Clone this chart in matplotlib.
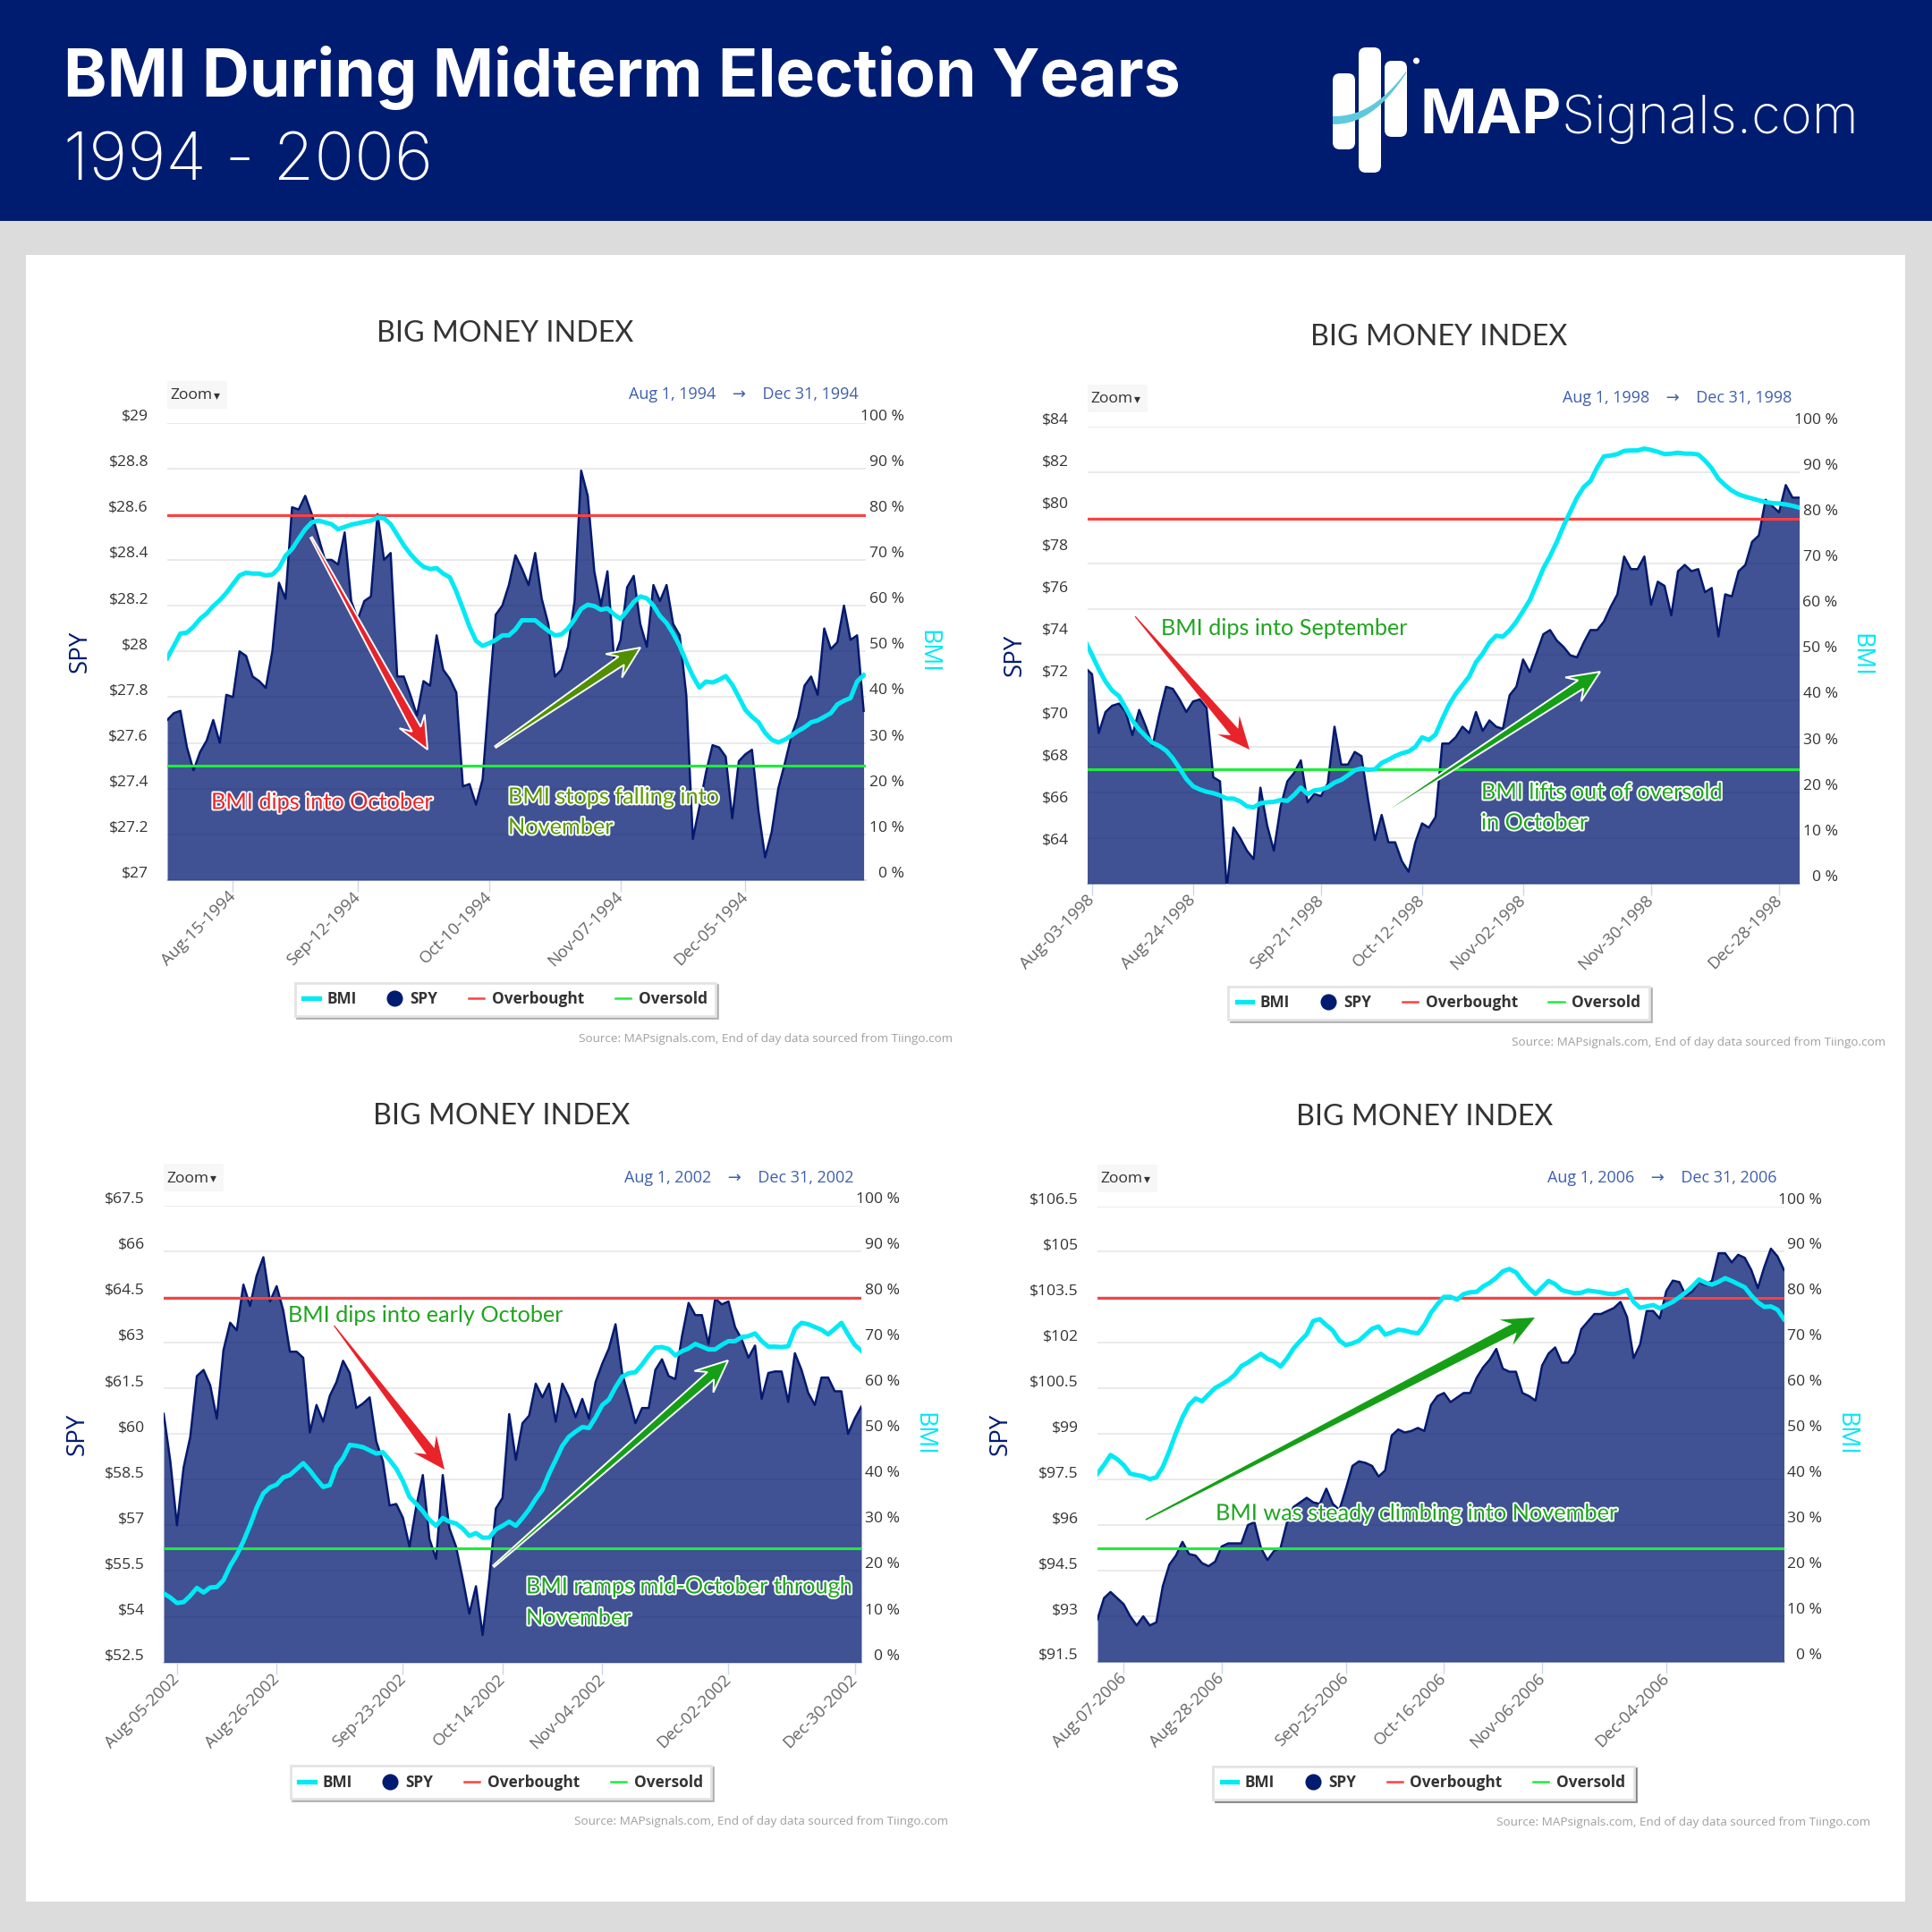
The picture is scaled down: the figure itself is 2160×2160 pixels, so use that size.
import numpy as np
import matplotlib
matplotlib.use("Agg")
import matplotlib.pyplot as plt
from matplotlib.patches import Rectangle, FancyBboxPatch, Polygon, Circle
from matplotlib.lines import Line2D
from matplotlib.transforms import ScaledTranslation
import matplotlib.patheffects as pe

plt.rcParams['font.family'] = ['Open Sans', 'DejaVu Sans']

# ---------- data ----------
years = ["1994", "1998", "2002", "2006"]
spy_1994 = [27.70,27.73,27.74,27.58,27.48,27.56,27.61,27.70,27.60,27.81,27.80,28.00,27.98,27.89,27.87,27.84,28.00,28.30,28.23,28.63,28.62,28.68,28.60,28.50,28.40,28.40,28.38,28.52,28.22,28.14,28.22,28.24,28.60,28.40,28.43,27.89,27.89,27.81,27.72,27.87,27.85,28.07,27.92,27.88,27.82,27.41,27.42,27.33,27.44,27.81,28.16,28.20,28.29,28.42,28.36,28.29,28.43,28.23,28.12,27.89,27.92,28.02,28.22,28.79,28.68,28.35,28.20,28.35,27.97,28.05,28.28,28.33,28.12,28.02,28.29,28.22,28.29,28.12,28.07,27.81,27.18,27.32,27.47,27.59,27.58,27.54,27.27,27.52,27.55,27.57,27.30,27.10,27.21,27.40,27.51,27.63,27.71,27.85,27.89,27.81,28.10,28.01,28.04,28.20,28.05,28.07,27.74]
bmi_1994 = [48.5,51.2,53.9,54.1,55.4,57.1,58.3,59.9,61.2,62.8,64.7,66.6,67.2,67.0,67.0,66.6,66.8,68.2,70.9,72.4,74.6,76.7,78.2,78.6,78.2,77.8,76.7,77.2,77.7,78.0,78.3,78.6,79.2,79.1,77.8,75.5,73.2,71.3,69.7,68.5,68.0,68.2,67.0,66.2,63.1,59.3,55.4,52.3,51.2,51.8,52.5,53.5,53.5,54.8,56.8,56.8,56.8,55.6,54.5,53.5,53.7,55.0,57.0,59.3,60.2,59.9,59.1,59.4,58.1,57.1,58.9,60.8,62.0,61.6,60.0,57.7,56.2,53.9,51.2,47.7,44.6,42.1,43.4,43.2,43.8,44.6,42.7,40.0,37.2,35.7,34.5,32.2,30.7,30.1,30.7,31.6,32.6,33.4,34.5,34.9,35.7,36.5,38.4,39.2,39.8,43.4,44.8]
spy_1998 = [72.5,72.2,69.4,70.4,70.7,70.8,70.4,69.3,70.5,69.7,68.8,70.3,71.6,71.5,71.0,70.4,70.9,71.0,70.6,67.3,67.1,62.0,64.9,64.4,63.8,63.4,66.8,65.0,63.8,65.9,67.1,67.5,68.1,66.1,66.5,66.4,67.0,69.7,67.9,67.9,68.5,68.3,66.2,64.3,65.5,64.2,64.2,63.3,62.8,64.2,65.1,64.9,65.4,68.9,68.9,69.2,69.7,69.4,70.4,69.5,70.0,69.7,69.6,71.2,71.6,72.9,72.3,73.2,74.1,74.3,73.8,73.5,73.1,73.0,73.7,74.3,74.3,74.7,75.4,76.0,77.8,77.2,77.2,77.8,75.5,76.6,76.4,75.0,77.1,77.4,77.1,77.2,76.1,76.3,74.0,76.0,75.9,77.1,77.4,78.5,78.8,80.5,80.2,79.9,81.2,80.6,80.6]
bmi_1998 = [53.0,50.0,46.9,44.2,42.2,41.0,38.4,35.7,33.7,32.2,30.8,30.1,29.1,27.4,25.2,22.9,21.3,20.6,20.1,19.8,19.3,18.6,18.6,18.0,16.9,16.7,17.6,17.8,17.9,18.3,18.1,19.4,21.0,19.6,20.4,20.6,21.1,22.1,22.7,23.7,24.8,25.2,24.9,25.0,26.4,27.1,27.9,28.5,28.9,29.9,32.0,31.4,32.6,36.0,39.1,41.5,43.4,45.3,48.4,50.3,52.7,54.2,54.0,55.4,57.3,59.6,62.0,65.4,68.9,71.6,74.7,78.2,81.3,84.4,86.7,88.0,91.0,93.4,93.6,93.9,94.6,94.7,94.7,95.1,94.8,94.4,93.9,94.0,94.2,94.0,94.0,93.8,92.5,90.8,88.5,87.1,85.9,85.1,84.6,84.2,83.8,83.4,83.2,83.1,82.9,82.6,82.2]
spy_2002 = [60.66,59.1,57.0,58.9,59.9,61.9,62.1,61.6,60.5,62.75,63.65,63.4,64.9,64.2,65.2,65.8,64.35,64.85,64.05,62.7,62.7,62.5,60.05,60.95,60.4,61.25,61.7,62.4,62.0,60.85,61.0,61.2,59.75,59.1,57.65,57.7,57.25,56.3,57.6,58.65,56.55,55.9,58.65,56.9,56.3,55.25,54.1,55.0,53.4,55.25,57.55,57.9,60.65,59.15,60.35,60.6,61.65,61.2,61.65,60.4,61.65,61.2,60.55,61.15,60.5,61.7,62.3,62.8,63.6,62.0,61.2,60.35,60.85,60.85,62.1,62.45,61.9,61.8,63.2,64.3,63.9,63.9,62.95,64.45,64.25,64.35,63.5,63.1,62.5,62.9,61.15,62.0,62.05,62.05,61.05,62.65,62.1,61.35,60.95,61.85,61.85,61.4,61.4,60.0,60.5,60.9]
bmi_2002 = [15.1,14.2,13.0,13.2,14.6,16.3,15.3,16.4,16.5,18.0,21.1,23.5,26.5,30.0,33.9,37.0,38.3,38.9,40.5,41.0,42.3,43.6,42.0,40.1,38.4,38.8,42.8,44.7,47.6,47.4,47.1,46.4,45.7,46.0,44.3,42.4,39.7,36.2,34.7,33.1,31.2,29.9,31.6,30.8,30.4,29.3,27.7,28.3,27.3,27.3,29.1,29.9,30.8,29.9,31.6,33.5,35.8,37.8,41.3,44.3,47.4,49.4,50.5,51.5,51.3,53.6,56.3,57.5,60.2,62.5,63.3,63.5,65.2,67.2,68.9,69.0,68.6,67.2,68.1,68.7,69.7,69.1,68.5,68.5,69.5,70.3,70.3,71.2,71.4,72.0,70.3,69.1,69.1,69.0,69.2,73.0,74.3,74.0,73.4,72.8,71.8,73.0,74.3,71.8,69.5,68.2]
spy_2006 = [92.9,93.6,93.8,93.6,93.4,93.0,92.7,93.0,92.7,92.8,94.0,94.7,95.0,95.45,95.05,95.0,94.75,94.65,94.8,95.3,95.4,95.4,95.4,96.0,96.1,95.25,94.85,95.15,95.25,96.1,96.6,96.75,96.9,96.75,96.7,97.2,96.7,96.5,97.2,97.95,98.1,98.05,97.95,97.6,97.8,98.95,99.15,99.05,99.1,99.2,99.1,99.95,100.25,100.35,100.05,100.2,100.35,100.35,100.85,101.2,101.45,101.8,101.15,101.05,101.05,100.35,100.25,100.1,101.25,101.65,101.85,101.35,101.35,101.65,102.45,102.7,102.95,102.95,103.05,103.15,103.35,102.85,101.5,101.95,103.05,103.05,102.8,103.7,104.05,104.0,103.55,103.7,104.0,103.9,104.05,104.95,104.95,104.65,104.9,104.8,104.4,103.8,104.5,105.1,104.85,104.4]
bmi_2006 = [41.3,43.2,45.4,44.5,43.2,41.3,41.0,40.7,40.1,40.5,42.8,46.3,50.2,53.7,56.4,57.8,57.2,58.7,60.1,60.9,61.8,63.0,64.9,65.7,66.7,67.6,66.5,65.9,64.8,66.6,68.8,70.4,71.9,74.8,75.2,73.9,72.7,70.5,69.5,69.9,70.5,71.8,73.1,73.6,71.8,72.3,72.9,72.7,72.3,72.1,73.9,76.6,78.5,80.1,80.1,79.5,80.7,81.1,81.2,82.4,83.2,84.3,85.7,86.2,85.5,83.6,82.0,80.7,82.2,83.6,82.9,81.6,81.2,80.9,81.0,81.5,81.3,81.1,80.8,80.7,81.1,81.6,79.0,77.7,78.0,78.3,77.6,78.3,79.0,80.0,81.1,82.4,83.9,83.2,82.8,83.4,84.2,83.6,82.9,82.2,80.4,78.9,77.9,78.0,77.3,75.2]

spy_ticks_1994 = [27.0,27.2,27.4,27.6,27.8,28.0,28.2,28.4,28.6,28.8,29.0]
spy_ticks_1998 = [64,66,68,70,72,74,76,78,80,82,84]
spy_ticks_2002 = [52.5,54,55.5,57,58.5,60,61.5,63,64.5,66,67.5]
spy_ticks_2006 = [91.5,93,94.5,96,97.5,99,100.5,102,103.5,105,106.5]
bmi_ticks = [0,10,20,30,40,50,60,70,80,90,100]
overbought = 79.8
oversold = 25.0
date_idx_1994 = [10,29,49,69,88]
date_lab_1994 = ["Aug-15-1994","Sep-12-1994","Oct-10-1994","Nov-07-1994","Dec-05-1994"]
date_idx_1998 = [0,15,34,49,64,83,102]
date_lab_1998 = ["Aug-03-1998","Aug-24-1998","Sep-21-1998","Oct-12-1998","Nov-02-1998","Nov-30-1998","Dec-28-1998"]
date_idx_2002 = [2,17,36,51,66,85,104]
date_lab_2002 = ["Aug-05-2002","Aug-26-2002","Sep-23-2002","Oct-14-2002","Nov-04-2002","Dec-02-2002","Dec-30-2002"]
date_idx_2006 = [4,19,38,53,68,87]
date_lab_2006 = ["Aug-07-2006","Aug-28-2006","Sep-25-2006","Oct-16-2006","Nov-06-2006","Dec-04-2006"]

NAVY = '#001c71'
CYAN = '#00e9f5'
RED = '#ff4040'
GREEN = '#1cee38'
FILL = '#00186f'
W = H = 2160
PT = 0.36  # points per output pixel
fig = plt.figure(figsize=(10.8, 10.8), dpi=200, facecolor='#dcdcdc')

def px_axes(L, T, R, B, z):
    return fig.add_axes([L/W, 1-B/H, (R-L)/W, (B-T)/H], zorder=z)

bg = fig.add_axes([0,0,1,1], zorder=0); bg.set_xlim(0,W); bg.set_ylim(H,0); bg.axis('off')
fg = fig.add_axes([0,0,1,1], zorder=10); fg.set_xlim(0,W); fg.set_ylim(H,0); fg.axis('off')
bg.add_patch(Rectangle((0,0), W, 247, fc=NAVY, ec='none'))
bg.add_patch(Rectangle((29,285), 2101, 1841, fc='white', ec='none'))

# header
fg.text(71, 87, "BMI During Midterm Election Years", color='white', fontsize=26.4, fontweight='bold',
        family='Inter', va='center', ha='left')
fg.text(71, 182, "1994 - 2006", color='white', fontsize=26.7, fontweight='light',
        family='Inter', va='center', ha='left')
for (x0, x1, y0, y1) in [(1490,1515,82,167),(1519,1544,53,193),(1548,1573,68,153)]:
    fg.add_patch(FancyBboxPatch((x0+8,y0+8), x1-x0-16, y1-y0-16, boxstyle="round,pad=8,rounding_size=8",
                                fc='white', ec='none'))
t = np.linspace(0,1,30)
upper = np.c_[1490+82*t, 130-50*t**2.2]
lower = np.c_[1490+82*t, 139-57*t**2.2]
fg.add_patch(Polygon(np.r_[upper, lower[::-1]], fc='#5fc9dd', ec='none'))
fg.add_patch(Circle((1583.5,68), 3.5, fc='white', ec='none'))
fg.text(1588, 149, "MAP", color='white', fontsize=24.5, fontweight='bold', family='Inter', va='baseline')
fg.text(1746, 149, "Signals.com", color='white', fontsize=21.5, fontweight='light', family='Inter', va='baseline')

def arrow(x0, y0, x1, y1, color, tail=1.0, neck=5.5, head=16, hlen=36, edge=True):
    p0 = np.array([x0,y0],float); p1 = np.array([x1,y1],float)
    d = (p1-p0)/np.hypot(*(p1-p0)); n = np.array([-d[1],d[0]])
    pts = [p0+n*tail, p1-d*hlen*0.72+n*neck, p1-d*hlen+n*head, p1,
           p1-d*hlen-n*head, p1-d*hlen*0.72-n*neck, p0-n*tail]
    fg.add_patch(Polygon(pts, closed=True, fc=color, ec='white' if edge else 'none', lw=0.7, joinstyle='miter'))

def note(x, y, s, color, outline=True):
    t = fg.text(x, y+1, s, color=color, fontsize=9.1, family='Lato', va='center', ha='left')
    if outline:
        t.set_path_effects([pe.withStroke(linewidth=1.4, foreground='white')])

panels = [
    dict(year="1994", L=187, T=472.5, R=968, B=984, spy=spy_1994, bmi=bmi_1994, start=0, ymin=27.0, ymax=29.0,
         ticks=spy_ticks_1994, fmt="${:g}", xi=date_idx_1994, xl=date_lab_1994, xmin=0, xmax=106.33,
         title=(565,373), spyx=90),
    dict(year="1998", L=1216, T=476.5, R=2011.6, B=988, spy=spy_1998, bmi=bmi_1998, start=-1, ymin=62.23, ymax=84,
         ticks=spy_ticks_1998, fmt="${:g}", xi=date_idx_1998, xl=date_lab_1998, xmin=-0.65, xmax=105,
         title=(1609,377), spyx=1135),
    dict(year="2002", L=183, T=1347.7, R=963, B=1858.6, spy=spy_2002, bmi=bmi_2002, start=0, ymin=52.5, ymax=67.5,
         ticks=spy_ticks_2002, fmt="${:g}", xi=date_idx_2002, xl=date_lab_2002, xmin=0, xmax=105,
         title=(561,1248), spyx=87),
    dict(year="2006", L=1227, T=1348.5, R=1994.5, B=1858, spy=spy_2006, bmi=bmi_2006, start=0, ymin=91.5, ymax=106.5,
         ticks=spy_ticks_2006, fmt="${:g}", xi=date_idx_2006, xl=date_lab_2006, xmin=0, xmax=105,
         title=(1593,1249), spyx=1119),
]

TICKFS = 6.3
up7 = ScaledTranslation(0, 7/200, fig.dpi_scale_trans)
for p in panels:
    L,T,R,B = p['L'],p['T'],p['R'],p['B']
    base = px_axes(L,T,R,B,1)
    sax = base.twinx(); sax.set_zorder(2); sax.patch.set_visible(False)
    top = base.twinx(); top.set_zorder(3); top.patch.set_visible(False)

    x = np.arange(len(p['spy'])) + p['start']
    base.set_xlim(p['xmin'], p['xmax'])
    base.set_ylim(0,100); top.set_ylim(0,100)
    sax.set_ylim(p['ymin'], p['ymax'])

    base.yaxis.tick_right(); sax.yaxis.tick_left()
    base.set_yticks(bmi_ticks, [f"{v} %" for v in bmi_ticks])
    sax.set_yticks(p['ticks'], [p['fmt'].format(v) for v in p['ticks']])
    base.grid(axis='y', color='#e8e8e8', lw=0.65); base.set_axisbelow(True)
    base.tick_params(axis='y', length=0, pad=43*PT, labelsize=TICKFS, labelcolor='#333333')
    sax.tick_params(axis='y', length=0, pad=21*PT, labelsize=TICKFS, labelcolor='#333333')
    for lab in base.get_yticklabels():
        lab.set_ha('right'); lab.set_va('center'); lab.set_transform(lab.get_transform()+up7)
    for lab in sax.get_yticklabels():
        lab.set_va('center'); lab.set_transform(lab.get_transform()+up7)
    base.set_xticks(p['xi'], p['xl'])
    base.tick_params(axis='x', length=4.7, width=0.5, color='#ccd6eb', pad=1, labelsize=6.7, labelcolor='#666666')
    for lab in base.get_xticklabels():
        lab.set_rotation(45); lab.set_ha('right'); lab.set_rotation_mode('anchor'); lab.set_va('center')
    for a in (base, sax, top):
        for s in ('top','left','right','bottom'):
            a.spines[s].set_visible(False)
    base.spines['bottom'].set_visible(True); base.spines['bottom'].set_color('#ccd6eb'); base.spines['bottom'].set_linewidth(0.6)
    top.set_yticks([])

    sax.fill_between(x, p['ymin'], p['spy'], color=FILL, alpha=0.75, lw=0)
    sax.plot(x, p['spy'], color='#04196e', lw=0.9)
    top.axhline(overbought, color=RED, lw=1.1)
    top.axhline(oversold, color=GREEN, lw=1.1)
    top.plot(np.arange(len(p['bmi'])) + p['start'], p['bmi'], color=CYAN, lw=1.8)

    # chart furniture
    fg.text(*p['title'], "BIG MONEY INDEX", fontsize=11.6, family='Lato', color='#333333', ha='center', va='center')
    fg.add_patch(Rectangle((L, T-47), 67, 31, fc='#f7f7f7', ec='none'))
    fg.text(L+3, T-30, "Zoom", fontsize=6.3, color='#333333', ha='left', va='center')
    fg.text(L+52, T-30, "\u25be", fontsize=5, color='#333333', ha='left', va='center')
    fg.text(R-8.5, T-31, f"Aug 1, {p['year']}    \u2192    Dec 31, {p['year']}", fontsize=6.5, color='#3e5fae', ha='right', va='center')
    mid = (T+B)/2
    fg.text(p['spyx'], mid, "SPY", fontsize=10, color=NAVY, rotation=90, ha='center', va='center')
    fg.text(R+69, mid, "BMI", fontsize=9.6, color=CYAN, rotation=270, ha='center', va='center')
    fg.text(R+97, T+689, "Source: MAPsignals.com, End of day data sourced from Tiingo.com", fontsize=4.85, color='#a0a0a0', ha='right', va='center')
    handles = [Line2D([],[],color=CYAN,lw=1.9), Line2D([],[],color=NAVY,marker='o',ls='none',ms=5.5),
               Line2D([],[],color=RED,lw=0.9), Line2D([],[],color=GREEN,lw=0.9)]
    leg = fg.legend(handles, ["BMI","SPY","Overbought","Oversold"], ncol=4, loc='center',
                    bbox_to_anchor=(R-403, T+645), bbox_transform=fg.transData, fontsize=6.2,
                    handlelength=1.0, handletextpad=0.5, columnspacing=2.0, borderpad=0.55, frameon=True,
                    fancybox=False, edgecolor='#e4e4e4', facecolor='white', framealpha=1,
                    shadow=dict(ox=0.8, oy=-0.8, fc='#999999', alpha=0.4),
                    prop=dict(size=6.2, weight='bold', family='Open Sans'), labelcolor='#333333')
    fg.add_artist(leg)

GR = '#159f16'; OL = '#4f8f00'; RD = '#e8232a'
arrow(348,601,478,838,RD)
arrow(554,835,716,724,OL)
arrow(1269,689,1397,838,RD,edge=False,tail=0.6)
arrow(1555,904,1789,751,GR)
arrow(373.5,1482,497,1643,RD,edge=False,tail=0.6)
arrow(552,1751,814,1521,GR)
arrow(1281,1699,1716,1473,GR,edge=False,tail=0.8)
note(236,896,"BMI dips into October",'#e8262b')
note(568,890,"BMI stops falling into",'#5a9a00')
note(568,924,"November",'#5a9a00')
note(1298,702,"BMI dips into September",'#1fa51f',False)
note(1656,885,"BMI lifts out of oversold",'#1fa51f')
note(1656,919,"in October",'#1fa51f')
note(322,1469,"BMI dips into early October",'#1fa51f',False)
note(588,1773,"BMI ramps mid-October through",'#1fa51f')
note(588,1808,"November",'#1fa51f')
note(1359,1691,"BMI was steady climbing into November",'#1fa51f')

fig.savefig("out.png", dpi=200, facecolor=fig.get_facecolor())
